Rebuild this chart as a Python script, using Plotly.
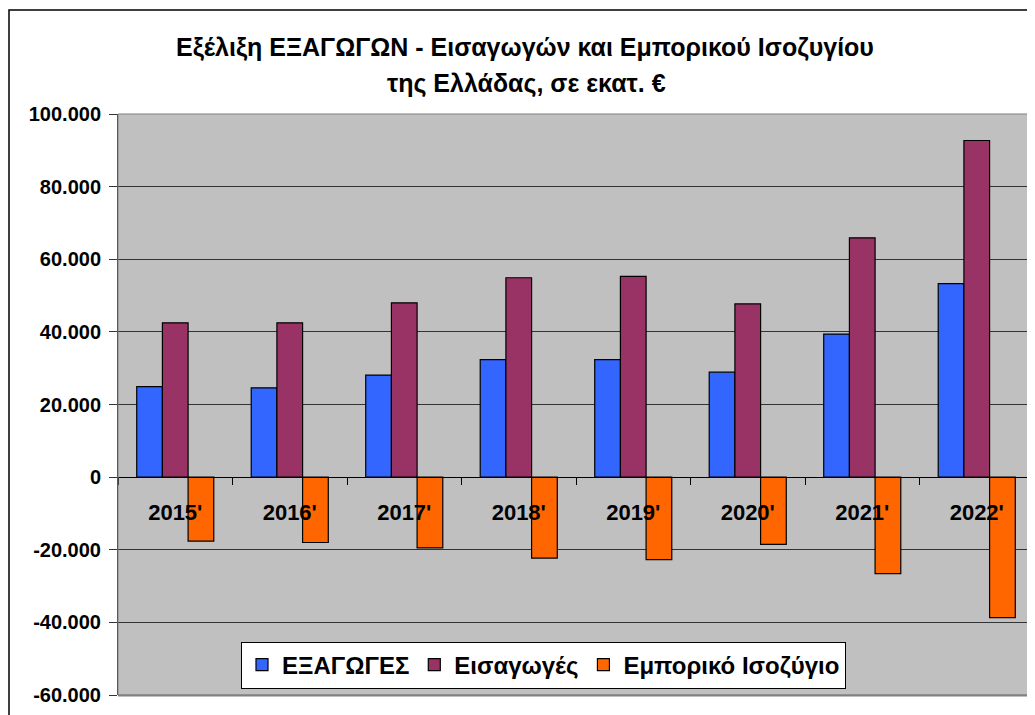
import plotly.graph_objects as go

categories = ["2015'", "2016'", "2017'", "2018'", "2019'", "2020'", "2021'", "2022'"]
exports = [24900, 24600, 28100, 32350, 32350, 28900, 39400, 53300]
imports = [42500, 42500, 48000, 54900, 55300, 47700, 65900, 92700]
balance = [-17600, -18000, -19500, -22300, -22700, -18500, -26600, -38700]
series_names = ["ΕΞΑΓΩΓΕΣ", "Εισαγωγές", "Εμπορικό Ισοζύγιο"]
y_tickvals = [-60000, -40000, -20000, 0, 20000, 40000, 60000, 80000, 100000]
y_ticktext = ["-60.000", "-40.000", "-20.000", "0", "20.000", "40.000", "60.000", "80.000", "100.000"]
title_line1 = "Εξέλιξη ΕΞΑΓΩΓΩΝ - Εισαγωγών και Εμπορικού Ισοζυγίου"
title_line2 = "της Ελλάδας, σε εκατ. €"

colors = ["#3366FF", "#993366", "#FF6600"]
FONT = "Liberation Sans, Arial, sans-serif"

fig = go.Figure()
for name, vals, col in zip(series_names, [exports, imports, balance], colors):
    fig.add_trace(go.Bar(
        x=categories, y=vals, name=name,
        marker=dict(color=col, line=dict(color="#000000", width=1.2)),
    ))

# page body has an 8px margin; screen coordinates below are compensated
OFF = 8
W, H = 1035, 715
L = 118 - OFF
T = 114 - OFF
B = H - (695 - OFF)
R = W - (1034 - OFF)
pw = W - L - R
ph = H - T - B

def px_x(p):
    return (p - OFF - L) / pw

def px_y(p):
    return (H - B - (p - OFF)) / ph

ymin, ymax = -60000, 100000
zero_pos = (0 - ymin) / (ymax - ymin)

fig.update_layout(
    width=W, height=H,
    margin=dict(l=L, r=R, t=T, b=B),
    paper_bgcolor="white",
    plot_bgcolor="#C0C0C0",
    separators=",.",
    barmode="group",
    bargap=0.327,
    bargroupgap=0,
    font=dict(family=FONT, size=20, color="black"),
    showlegend=True,
    legend=dict(
        orientation="h",
        x=px_x(543.5), xanchor="center",
        y=px_y(665), yanchor="middle",
        bgcolor="white", bordercolor="black", borderwidth=1,
        font=dict(family=FONT, size=24, color="black", weight="bold"),
        itemwidth=30,
    ),
    xaxis=dict(
        anchor="free", position=zero_pos,
        showline=True, linecolor="black", linewidth=1,
        ticks="outside", tickson="boundaries", ticklen=7, tickcolor="black",
        tickfont=dict(family=FONT, size=22, color="black", weight="bold"),
        ticklabelstandoff=15,
        showgrid=False,
        layer="above traces",
    ),
    yaxis=dict(
        range=[ymin, ymax],
        tickvals=y_tickvals, ticktext=y_ticktext,
        ticks="outside", ticklen=8, tickcolor="#333333",
        tickfont=dict(family=FONT, size=20, color="black", weight="bold"),
        ticklabelstandoff=4,
        showgrid=True, gridcolor="#333333", gridwidth=1,
        zeroline=True, zerolinecolor="black", zerolinewidth=1,
        showline=True, linecolor="#333333", linewidth=1,
    ),
)

# plot area border (gray) and bottom shadow
fig.add_shape(type="rect", xref="paper", yref="paper", x0=0, x1=1, y0=0, y1=1,
              line=dict(color="#808080", width=1), layer="above")
fig.add_shape(type="line", xref="paper", yref="paper", x0=0, x1=1, y0=px_y(695.5), y1=px_y(695.5),
              line=dict(color="#808080", width=2), layer="above")
# outer chart frame (cropped at right and bottom)
fig.add_shape(type="rect", xref="paper", yref="paper",
              x0=px_x(9), x1=px_x(1060), y0=px_y(740), y1=px_y(10),
              line=dict(color="black", width=1.5), layer="above")

fig.add_annotation(text=title_line1, xref="paper", yref="paper",
                   x=px_x(525), y=px_y(47), xanchor="center", yanchor="middle",
                   showarrow=False, font=dict(family=FONT, size=25, color="black", weight="bold"))
fig.add_annotation(text=title_line2, xref="paper", yref="paper",
                   x=px_x(526), y=px_y(83), xanchor="center", yanchor="middle",
                   showarrow=False, font=dict(family=FONT, size=25, color="black", weight="bold"))

fig.write_html("out.html")
